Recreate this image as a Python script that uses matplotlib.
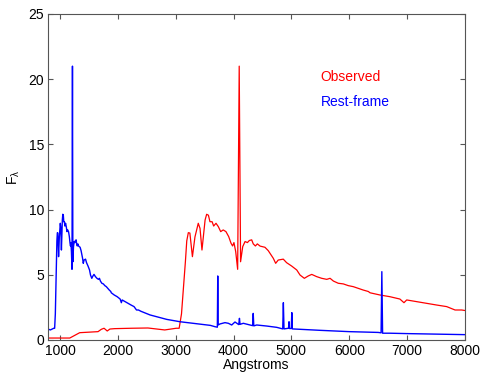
import numpy as np
import matplotlib
matplotlib.use("Agg")
import matplotlib.pyplot as plt

plt.rcParams['font.family'] = ['Liberation Sans', 'DejaVu Sans']
plt.rcParams['mathtext.default'] = 'regular'

# Rest-frame spectrum (Angstrom, F_lambda)
rest_wave = [230, 270, 347, 398, 492, 509, 523, 539, 553, 577, 663, 748, 834, 868, 893,
             908, 920, 930, 940, 947, 955, 963, 976, 989, 1006, 1015, 1025, 1041, 1049,
             1058, 1066, 1077, 1085, 1097, 1109, 1121, 1134, 1148, 1162, 1174, 1182, 1189,
             1198, 1208, 1216, 1223, 1234, 1246, 1258, 1268, 1280, 1288, 1299, 1309, 1323,
             1348, 1365, 1374, 1391, 1403, 1416, 1442, 1459, 1485, 1511, 1528, 1550, 1570,
             1588, 1613, 1639, 1665, 1682, 1699, 1724, 1750, 1775, 1801, 1827, 1852, 1878,
             1887, 1938, 1989, 2040, 2061, 2075, 2126, 2177, 2229, 2280, 2323, 2357, 2400,
             2557, 2729, 2845, 3075, 3420, 3600, 3679, 3720, 3727, 3734, 3766, 3852, 3910,
             3968, 4025, 4090, 4102, 4112, 4169, 4330, 4340, 4350, 4400, 4573, 4746, 4850,
             4861, 4872, 4950, 4959, 4966, 4998, 5007, 5016, 5149, 5500, 6000, 6500, 6550,
             6563, 6576, 6700, 7000, 7500, 8000]
rest_flux = [0.15, 0.15, 0.15, 0.56, 0.64, 0.82, 0.90, 0.69, 0.84, 0.87, 0.90, 0.92, 0.77,
             0.84, 0.90, 0.90, 2.0, 4.0, 6.0, 7.6, 8.23, 8.2, 6.39, 7.9, 8.95, 8.56, 6.9,
             9.2, 9.64, 9.57, 9.07, 9.07, 8.74, 8.95, 8.69, 8.31, 8.44, 8.31, 7.93, 7.42,
             7.21, 7.47, 6.78, 5.42, 21.0, 6.0, 7.16, 7.55, 7.47, 7.63, 7.68, 7.37, 7.21,
             7.37, 7.2, 7.11, 6.85, 6.65, 6.26, 5.88, 6.13, 6.2, 5.93, 5.67, 5.37, 4.98,
             4.73, 4.91, 5.03, 4.86, 4.73, 4.65, 4.73, 4.52, 4.35, 4.30, 4.17, 4.09, 3.96,
             3.83, 3.72, 3.62, 3.45, 3.32, 3.14, 2.86, 3.07, 2.94, 2.81, 2.68, 2.56, 2.30,
             2.30, 2.20, 1.92, 1.72, 1.58, 1.40, 1.22, 1.12, 1.02, 0.98, 4.91, 1.15, 1.23,
             1.33, 1.28, 1.15, 1.38, 1.18, 1.66, 1.20, 1.28, 1.10, 2.04, 1.08, 1.15, 1.07,
             0.97, 0.85, 2.86, 0.85, 0.90, 1.40, 0.88, 0.88, 2.10, 0.85, 0.82, 0.74, 0.64,
             0.58, 0.55, 5.24, 0.52, 0.52, 0.49, 0.45, 0.41]

z = 2.37  # Ly-alpha 1216 A observed at ~4100 A

obs_wave = np.array(rest_wave) * (1 + z)

fig = plt.figure(figsize=(4.82, 3.73), dpi=100)
ax = fig.add_axes([0.1004, 0.0885, 0.8643, 0.874])

ax.plot(obs_wave, rest_flux, color='red', lw=0.9)
ax.plot(rest_wave, rest_flux, color='blue', lw=1.0)

ax.set_xlim(800, 8000)
ax.set_ylim(0, 25)
ax.set_xticks([1000, 2000, 3000, 4000, 5000, 6000, 7000, 8000])
ax.set_yticks([0, 5, 10, 15, 20, 25])
ax.tick_params(direction='in', top=True, right=True, length=3.5, width=0.8,
               color='#555555', labelsize=10, pad=3)
for s in ax.spines.values():
    s.set_color('#555555')
    s.set_linewidth(0.8)

ax.set_xlabel('Angstroms', fontsize=10, labelpad=0)
ax.set_ylabel(r'F$_\lambda$', fontsize=10, labelpad=5)

ax.text(0.654, 0.795, 'Observed', color='red', fontsize=10,
        transform=ax.transAxes, va='baseline', ha='left')
ax.text(0.654, 0.718, 'Rest-frame', color='blue', fontsize=10,
        transform=ax.transAxes, va='baseline', ha='left')

fig.savefig('out.png', dpi=100)
